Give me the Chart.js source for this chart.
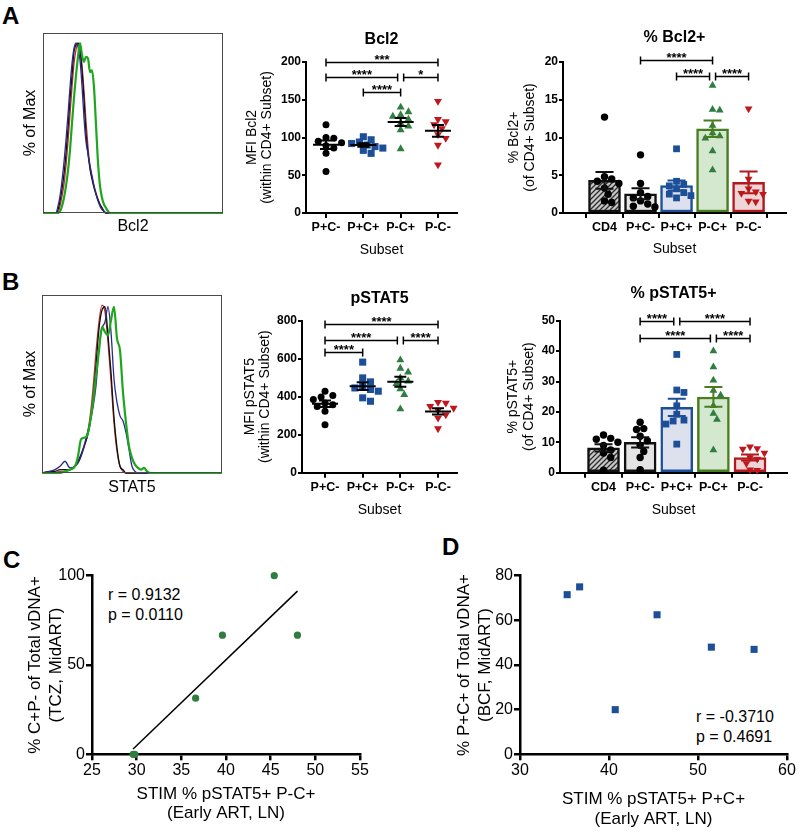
<!DOCTYPE html>
<html><head><meta charset="utf-8">
<script src="https://cdn.jsdelivr.net/npm/chart.js@4.4.1/dist/chart.umd.min.js"></script>
<style>
html,body{margin:0;padding:0;background:#fff;}
#wrap{position:relative;width:800px;height:833px;overflow:hidden;font-family:"Liberation Sans",Arial,sans-serif;}
canvas{position:absolute;}
.lbl{position:absolute;white-space:nowrap;color:#000;font-family:"Liberation Sans",Arial,sans-serif;}
.big{font-weight:bold;font-size:24px;line-height:24px;}
.st{font-size:16px;line-height:20px;}
</style></head><body><div id="wrap">
<div class="lbl big" style="left:2px;top:4px">A</div>
<div class="lbl big" style="left:2px;top:270px">B</div>
<div class="lbl big" style="left:3px;top:548px">C</div>
<div class="lbl big" style="left:442px;top:535px">D</div>
<div class="lbl st" style="left:108px;top:584.5px">r = 0.9132<br>p = 0.0110</div>
<div class="lbl st" style="left:696px;top:707px">r = -0.3710<br>p = 0.4691</div>
</div>
<script>
// ================= DATA =================
const dotCats = ['P+C-', 'P+C+', 'P-C+', 'P-C-'];
const barCats = ['CD4', 'P+C-', 'P+C+', 'P-C+', 'P-C-'];

// A: MFI Bcl2 (within CD4+ subset)
const bcl2Mfi_PpCm = [117, 100, 99, 95, 93, 89, 86, 79, 55];
const bcl2Mfi_PpCp = [101, 97, 94, 92, 90, 88, 86, 83, 79];
const bcl2Mfi_PmCp = [140, 134, 130, 128, 124, 119, 115, 110, 85];
const bcl2Mfi_PmCm = [148, 124, 121, 117, 112, 104, 99, 90, 64];
const bcl2MfiBrackets = [[0, 3, 200, '***'], [0, 2, 180, '****'], [2, 3, 180, '*'], [1, 2, 160, '****']];

// A: % Bcl2+ (of CD4+ subset)
const bcl2Pct_CD4  = [12.7, 4.8, 4.5, 4.2, 3.9, 3.3, 2.5, 1.6, 1.4];
const bcl2Pct_PpCm = [7.7, 3.9, 2.7, 2.2, 2.0, 1.6, 1.2, 0.9, 0.8];
const bcl2Pct_PpCp = [8.5, 4.2, 3.8, 3.6, 3.2, 2.7, 2.5, 2.3, 2.0];
const bcl2Pct_PmCp = [16.9, 13.7, 13.6, 11.6, 10.6, 10.2, 9.9, 8.2, 5.7];
const bcl2Pct_PmCm = [13.8, 4.5, 3.2, 2.8, 2.6, 2.5, 1.6, 1.5];
const bcl2PctBrackets = [[1, 3, 20.3, '****'], [2, 3, 18.1, '****'], [3, 4, 18.1, '****']];

// B: MFI pSTAT5
const stat5Mfi_PpCm = [429, 406, 399, 385, 367, 358, 349, 323, 252];
const stat5Mfi_PpCp = [582, 499, 478, 455, 446, 438, 429, 394, 376];
const stat5Mfi_PmCp = [593, 549, 529, 499, 482, 469, 441, 411, 335];
const stat5Mfi_PmCm = [371, 367, 349, 340, 328, 305, 288, 232];
const stat5MfiBrackets = [[0, 3, 785, '****'], [0, 2, 699, '****'], [2, 3, 699, '****'], [0, 1, 637, '****']];

// B: % pSTAT5+
const stat5Pct_CD4  = [12.4, 11.3, 11.0, 10.0, 9.0, 7.5, 6.5, 5.0, 0.8];
const stat5Pct_PpCm = [16.6, 14.5, 14.2, 12.0, 10.5, 9.0, 7.0, 5.0, 1.0];
const stat5Pct_PpCp = [38.9, 27.2, 26.4, 22.0, 19.2, 17.3, 17.0, 16.0, 9.4];
const stat5Pct_PmCp = [40.0, 34.8, 30.4, 27.0, 25.5, 22.0, 19.5, 17.5, 7.5];
const stat5Pct_PmCm = [8.5, 8.0, 7.8, 6.5, 5.0, 4.5, 3.0, 1.0, 0.8];
const stat5PctBrackets = [[1, 2, 50, '****'], [2, 4, 50, '****'], [1, 3, 44.2, '****'], [3, 4, 44.2, '****']];

// Histograms (% of Max vs fluorescence, arbitrary units)
const histA_x     = [0, 13, 15, 17, 19, 21, 23, 25, 27, 29, 31, 33, 35, 37, 39, 41, 43, 45, 47, 49, 51, 53, 55, 57, 59, 61, 63, 65, 67, 180];
const histA_black = [0, 0, 2, 7, 14, 23, 35, 50, 67, 81, 95, 99, 100, 96, 84, 67, 47, 35, 26, 20, 15, 11, 8, 5, 3, 1, 0, 0, 0, 0];
const histA_red   = [0, 0, 0, 4, 10, 17, 28, 42, 58, 74, 88, 96, 100, 97, 87, 72, 54, 39, 27, 21, 16, 12, 8, 5, 3, 1, 0, 0, 0, 0];
const histA_blue  = [0, 0, 4, 10, 19, 30, 43, 58, 74, 88, 97, 100, 98, 90, 75, 56, 42, 35, 28, 22, 16, 11, 7, 4, 2, 1, 0, 0, 0, 0];
const histA_green = [0, 0, 0, 1, 4, 9, 16, 25, 37, 53, 68, 81, 92, 100, 93, 89, 92, 91, 83, 84, 74, 52, 30, 16, 9, 5, 3, 1, 0, 0];

const histB_x     = [0, 8, 13, 18, 23, 28, 33, 36, 39, 42, 45, 48, 51, 54, 57, 60, 63, 66, 69, 72, 75, 78, 81, 84, 87, 90, 93, 96, 99, 102, 105, 108, 180];
const histB_black = [0, 1, 1, 2, 2, 2, 4, 7, 11, 16, 21, 29, 43, 64, 86, 97, 99, 82, 60, 33, 15, 4, 2, 0, 0, 0, 0, 0, 0, 0, 0, 0, 0];
const histB_red   = [0, 0, 0, 1, 1, 2, 4, 6, 10, 15, 22, 33, 50, 72, 90, 100, 96, 78, 55, 30, 13, 4, 1, 0, 0, 0, 0, 0, 0, 0, 0, 0, 0];
const histB_blue  = [0, 1, 2, 4, 7, 3, 4, 6, 10, 16, 23, 30, 39, 52, 74, 86, 90, 99, 84, 56, 42, 34, 31, 24, 14, 4, 1, 0, 0, 0, 0, 0, 0];
const histB_green = [0, 0, 0, 0, 1, 2, 4, 10, 20, 21, 22, 30, 42, 58, 73, 87, 84, 82, 91, 99, 80, 73, 48, 30, 16, 9, 5, 3, 2, 3, 1, 0, 0];

// C: STIM % pSTAT5+ P-C+ vs % C+P- of total vDNA+
const corrC_x = [29.6, 29.8, 36.6, 39.6, 45.4, 48.0];
const corrC_y = [0, 0, 31.4, 66.7, 100, 66.7];
// D: STIM % pSTAT5+ P+C+ vs % P+C+ of total vDNA+
const corrD_x = [35.3, 36.7, 40.7, 45.4, 51.5, 56.3];
const corrD_y = [71.5, 75.0, 20.0, 62.5, 48.0, 47.0];

// ================= RENDERING =================
const FONT = "'Liberation Sans', Arial, sans-serif";
Chart.defaults.font.family = FONT;
Chart.defaults.color = '#000';
Chart.defaults.animation = false;

const COL = {black: '#000000', blue: '#1d4f98', green: '#2f7d3f', red: '#c0171e'};
const EDGE = {black: '#111111', blue: '#1d4f98', green: '#4a7d1e', red: '#b2191e'};
const WRAP = document.getElementById('wrap');

function panel(R, A) {
  const c = document.createElement('canvas');
  c.width = R.w; c.height = R.h;
  Object.assign(c.style, {left: R.x + 'px', top: R.y + 'px', width: R.w + 'px', height: R.h + 'px'});
  WRAP.appendChild(c);
  return {canvas: c, padding: {left: 0, top: A.t - R.y, right: R.x + R.w - A.r, bottom: 0},
          W: A.l - R.x, H: R.y + R.h - A.b, pxX: A.r - A.l, pxY: A.b - A.t};
}

function swarm(vals, pxPerY, pxPerX, d) {
  const placed = [], offs = new Array(vals.length);
  const order = vals.map((v, i) => i).sort((a, b) => vals[b] - vals[a]);
  for (const i of order) {
    const py = vals[i] * pxPerY;
    let chosen = 0;
    for (let k = 0; k < 40; k++) {
      const step = Math.ceil(k / 2) * (k % 2 ? 1 : -1) * d * 0.6;
      if (placed.every(p => (p.x - step) ** 2 + (p.y - py) ** 2 >= d * d)) { chosen = step; break; }
    }
    placed.push({x: chosen, y: py});
    offs[i] = chosen / pxPerX;
  }
  return offs;
}

const deco = {
  id: 'deco',
  afterDatasetsDraw(chart, args, o) {
    const ctx = chart.ctx, a = chart.chartArea, xs = chart.scales.x, ys = chart.scales.y;
    ctx.save();
    if (o.frame) {
      ctx.strokeStyle = o.frame; ctx.lineWidth = 1;
      ctx.strokeRect(a.left + 0.5, a.top + 0.5, a.right - a.left - 1, a.bottom - a.top - 1);
    }
    (o.summaries || []).forEach(s => {
      const n = s.values.length, m = s.values.reduce((p, v) => p + v, 0) / n;
      const sd = Math.sqrt(s.values.reduce((p, v) => p + (v - m) ** 2, 0) / (n - 1));
      const se = sd / Math.sqrt(n);
      const x = xs.getPixelForValue(s.index);
      const yM = ys.getPixelForValue(m), yT = ys.getPixelForValue(m + se), yB = ys.getPixelForValue(m - se);
      ctx.strokeStyle = s.color; ctx.lineWidth = 2;
      ctx.beginPath();
      if (o.meanWidth) { ctx.moveTo(x - o.meanWidth / 2, yM); ctx.lineTo(x + o.meanWidth / 2, yM); }
      ctx.moveTo(x, yT); ctx.lineTo(x, yB);
      ctx.moveTo(x - o.capWidth / 2, yT); ctx.lineTo(x + o.capWidth / 2, yT);
      ctx.moveTo(x - o.capWidth / 2, yB); ctx.lineTo(x + o.capWidth / 2, yB);
      ctx.stroke();
    });
    const br = o.brackets || [];
    ctx.strokeStyle = '#000'; ctx.fillStyle = '#000'; ctx.lineWidth = 1.5;
    ctx.font = 'bold 13px ' + FONT; ctx.textAlign = 'center'; ctx.textBaseline = 'alphabetic';
    br.forEach(([i, j, v, label]) => {
      let x1 = xs.getPixelForValue(i), x2 = xs.getPixelForValue(j);
      if (br.some(b => b[2] === v && b[1] === i)) x1 += 3;
      if (br.some(b => b[2] === v && b[0] === j)) x2 -= 3;
      const y = Math.round(ys.getPixelForValue(v)) + 0.5;
      ctx.beginPath();
      ctx.moveTo(x1, y); ctx.lineTo(x2, y);
      ctx.moveTo(x1, y - 4); ctx.lineTo(x1, y + 4);
      ctx.moveTo(x2, y - 4); ctx.lineTo(x2, y + 4);
      ctx.stroke();
      ctx.fillText(label, (x1 + x2) / 2, y + 1);
    });
    if (o.title) {
      ctx.font = 'bold 16px ' + FONT; ctx.textBaseline = 'middle'; ctx.textAlign = 'center';
      ctx.fillText(o.title.text, (a.left + a.right) / 2, o.title.y);
    }
    ctx.restore();
  }
};

function yAxis(P, o) {
  return {
    type: 'linear', position: 'left', min: o.min, max: o.max,
    afterFit: sc => { sc.width = P.W; },
    grid: {display: !!o.step, drawOnChartArea: false, drawTicks: true, tickLength: o.tl || 5, color: '#000', lineWidth: o.lw || 2},
    border: {display: o.border !== false, color: '#000', width: o.lw || 2},
    ticks: o.step ? {stepSize: o.step, font: o.tickFont, padding: o.tickPad || 1, color: '#000'} : {display: false},
    title: {display: true, text: o.title, font: o.titleFont, color: '#000', padding: {top: o.titlePad, bottom: 0}}
  };
}
function xAxis(P, o) {
  const s = {
    type: 'linear', position: 'bottom', min: o.min, max: o.max,
    afterFit: sc => { sc.height = P.H; },
    grid: {display: !!(o.step || o.cats), drawOnChartArea: false, drawTicks: true, tickLength: o.tl || 5, color: '#000', lineWidth: o.lw || 2},
    border: {display: o.border !== false, color: '#000', width: o.lw || 2},
    ticks: (o.step || o.cats) ? {font: o.tickFont, padding: o.tickPad || 1, color: '#000', autoSkip: false, maxRotation: 0} : {display: false},
    title: {display: true, text: o.title, font: o.titleFont, color: '#000', padding: {top: 0, bottom: o.titlePad}}
  };
  if (o.step) s.ticks.stepSize = o.step;
  if (o.cats) {
    s.afterBuildTicks = sc => { sc.ticks = o.cats.map((c, i) => ({value: i})); };
    s.ticks.callback = v => o.cats[v];
  }
  return s;
}

const baseOpts = (P) => ({responsive: false, animation: false, events: [], layout: {padding: P.padding}});
const plug = (extra) => Object.assign({legend: {display: false}, tooltip: {enabled: false}}, extra);

// ---------- Histograms ----------
function histPlot(R, A, xs, curves, xTitle, xPad) {
  const P = panel(R, A);
  new Chart(P.canvas, {
    type: 'scatter',
    data: {datasets: curves.map(c => ({type: 'line', data: xs.map((x, i) => ({x, y: c.y[i]})),
      borderColor: c.color, borderWidth: c.w, pointRadius: 0, fill: false, cubicInterpolationMode: 'monotone', clip: false}))},
    options: Object.assign(baseOpts(P), {
      scales: {
        x: xAxis(P, {min: 0, max: 180, border: false, title: xTitle, titleFont: {size: 16, lineHeight: 1.2}, titlePad: xPad}),
        y: yAxis(P, {min: 0, max: 106, border: false, title: '% of Max', titleFont: {size: 16, lineHeight: 1.2}, titlePad: 21.4})
      },
      plugins: plug({deco: {frame: '#4a4a4a'}})
    }),
    plugins: [deco]
  });
}
histPlot({x: 0, y: 0, w: 232, h: 245}, {l: 43, t: 33, r: 223, b: 213}, histA_x, [
  {y: histA_green, color: '#1fa61f', w: 2.2},
  {y: histA_blue, color: '#2a2a8a', w: 1.3},
  {y: histA_black, color: '#111111', w: 1.3},
  {y: histA_red, color: '#b83030', w: 1.3}
], 'Bcl2', 8.9);
histPlot({x: 0, y: 258, w: 232, h: 252}, {l: 42, t: 295, r: 222, b: 473}, histB_x, [
  {y: histB_green, color: '#1fa61f', w: 2.2},
  {y: histB_blue, color: '#2a2a8a', w: 1.3},
  {y: histB_black, color: '#111111', w: 1.3},
  {y: histB_red, color: '#b83030', w: 1.3}
], 'STAT5', 12.9);

// ---------- Dot plots ----------
const dotStyles = [
  {shape: 'circle', r: 3.5, rot: 0, color: COL.black},
  {shape: 'rect', r: 5.0, rot: 0, color: COL.blue},
  {shape: 'triangle', r: 4.6, rot: 0, color: COL.green},
  {shape: 'triangle', r: 4.6, rot: 180, color: COL.red}
];
function pointSets(series, styles, pxPerY, pxPerX, d) {
  return series.map((vals, i) => {
    const off = swarm(vals, pxPerY, pxPerX, d);
    const st = styles[i];
    return {type: 'scatter', data: vals.map((v, k) => ({x: i + off[k], y: v})),
      pointStyle: st.shape, pointRadius: st.r, pointRotation: st.rot,
      backgroundColor: st.color, borderColor: st.color, borderWidth: 0, order: 1, clip: false};
  });
}
function dotPlot(R, A, o) {
  const P = panel(R, A);
  const pxPerX = P.pxX / (o.xmax - o.xmin), pxPerY = P.pxY / o.ymax;
  new Chart(P.canvas, {
    type: 'scatter',
    data: {datasets: pointSets(o.series, dotStyles, pxPerY, pxPerX, 6.5)},
    options: Object.assign(baseOpts(P), {
      scales: {
        x: xAxis(P, {min: o.xmin, max: o.xmax, cats: dotCats, tl: 5, tickPad: 2.5, tickFont: {size: 12.5, weight: 'bold'},
          title: 'Subset', titleFont: {size: 14, lineHeight: 1.2}, titlePad: 11.1}),
        y: yAxis(P, {min: 0, max: o.ymax, step: o.step, tl: 4, tickPad: 1, tickFont: {size: 12, weight: 'bold'},
          title: o.yTitle, titleFont: {size: 14, lineHeight: '15.5px'}, titlePad: o.yTitlePad})
      },
      plugins: plug({deco: {title: {text: o.title, y: o.titleY}, brackets: o.brackets, meanWidth: 26, capWidth: 12,
        summaries: o.series.map((v, i) => ({index: i, values: v, color: '#000'}))}})
    }),
    plugins: [deco]
  });
}
dotPlot({x: 230, y: 20, w: 240, h: 250}, {l: 306, t: 62, r: 457, b: 213}, {
  xmin: -0.536, xmax: 3.51, ymax: 200, step: 50,
  series: [bcl2Mfi_PpCm, bcl2Mfi_PpCp, bcl2Mfi_PmCp, bcl2Mfi_PmCm], brackets: bcl2MfiBrackets,
  title: 'Bcl2', titleY: 19.5, yTitle: ['MFI Bcl2', '(within CD4+ Subset)'], yTitlePad: 14
});
dotPlot({x: 230, y: 280, w: 240, h: 250}, {l: 302, t: 320.7, r: 457, b: 472.7}, {
  xmin: -0.611, xmax: 3.504, ymax: 800, step: 200,
  series: [stat5Mfi_PpCm, stat5Mfi_PpCp, stat5Mfi_PmCp, stat5Mfi_PmCm], brackets: stat5MfiBrackets,
  title: 'pSTAT5', titleY: 18.7, yTitle: ['MFI pSTAT5', '(within CD4+ Subset)'], yTitlePad: 12.3
});

// ---------- Bar + dot plots ----------
function hatch() {
  const c = document.createElement('canvas'); c.width = 5; c.height = 5;
  const g = c.getContext('2d');
  g.fillStyle = '#c8c8c8'; g.fillRect(0, 0, 5, 5);
  g.strokeStyle = '#2e2e2e'; g.lineWidth = 1.3;
  g.beginPath(); g.moveTo(0, 5); g.lineTo(5, 0); g.moveTo(-1, 1); g.lineTo(1, -1); g.moveTo(4, 6); g.lineTo(6, 4); g.stroke();
  return g.createPattern(c, 'repeat');
}
const barStyles = [
  {shape: 'circle', r: 3.7, rot: 0, color: COL.black},
  {shape: 'circle', r: 3.7, rot: 0, color: COL.black},
  {shape: 'rect', r: 4.8, rot: 0, color: COL.blue},
  {shape: 'triangle', r: 4.5, rot: 0, color: COL.green},
  {shape: 'triangle', r: 4.5, rot: 180, color: COL.red}
];
const barFills = () => [hatch(), '#e4e4e4', '#dde1ee', '#d3e8cf', '#efd6d6'];
const barEdges = [EDGE.black, EDGE.black, EDGE.blue, EDGE.green, EDGE.red];
function barPlot(R, A, o) {
  const P = panel(R, A);
  const pxPerX = P.pxX / (o.xmax - o.xmin), pxPerY = P.pxY / o.ymax;
  const means = o.series.map(v => v.reduce((a, b) => a + b, 0) / v.length);
  const sets = pointSets(o.series, barStyles, pxPerY, pxPerX, 7.5);
  sets.push({type: 'bar', data: means.map((m, i) => ({x: i, y: m})), backgroundColor: barFills(), borderColor: barEdges,
    borderWidth: 2.5, borderSkipped: false, barThickness: 32, order: 2});
  new Chart(P.canvas, {
    type: 'scatter',
    data: {datasets: sets},
    options: Object.assign(baseOpts(P), {
      scales: {
        x: xAxis(P, {min: o.xmin, max: o.xmax, cats: barCats, tl: 5, tickPad: 2.5, tickFont: {size: 12.5, weight: 'bold'},
          title: 'Subset', titleFont: {size: 14, lineHeight: 1.2}, titlePad: o.xTitlePad}),
        y: yAxis(P, {min: 0, max: o.ymax, step: o.step, tl: 4, tickPad: 1, tickFont: {size: 12, weight: 'bold'},
          title: o.yTitle, titleFont: {size: 14, lineHeight: '15.5px'}, titlePad: o.yTitlePad})
      },
      plugins: plug({deco: {title: {text: o.title, y: o.titleY}, brackets: o.brackets, capWidth: 18,
        summaries: o.series.map((v, i) => ({index: i, values: v, color: barEdges[i]}))}})
    }),
    plugins: [deco]
  });
}
barPlot({x: 470, y: 20, w: 330, h: 250}, {l: 563, t: 62, r: 786, b: 213}, {
  xmin: -0.533, xmax: 4.42, ymax: 20, step: 5,
  series: [bcl2Pct_CD4, bcl2Pct_PpCm, bcl2Pct_PpCp, bcl2Pct_PmCp, bcl2Pct_PmCm], brackets: bcl2PctBrackets,
  title: '% Bcl2+', titleY: 17.2, yTitle: ['% Bcl2+', '(of CD4+ Subset)'], yTitlePad: 36.7, xTitlePad: 12.1
});
barPlot({x: 470, y: 280, w: 330, h: 250}, {l: 560, t: 320.7, r: 787, b: 472.7}, {
  xmin: -0.568, xmax: 4.39, ymax: 50, step: 10,
  series: [stat5Pct_CD4, stat5Pct_PpCm, stat5Pct_PpCp, stat5Pct_PmCp, stat5Pct_PmCm], brackets: stat5PctBrackets,
  title: '% pSTAT5+', titleY: 13.5, yTitle: ['% pSTAT5+', '(of CD4+ Subset)'], yTitlePad: 35.7, xTitlePad: 11.6
});

// ---------- Correlations ----------
function regress(xs, ys) {
  const n = xs.length, mx = xs.reduce((a, b) => a + b, 0) / n, my = ys.reduce((a, b) => a + b, 0) / n;
  let sxy = 0, sxx = 0;
  xs.forEach((x, i) => { sxy += (x - mx) * (ys[i] - my); sxx += (x - mx) ** 2; });
  const b = sxy / sxx, a = my - b * mx;
  const x0 = Math.min(...xs), x1 = Math.max(...xs);
  return [{x: x0, y: a + b * x0}, {x: x1, y: a + b * x1}];
}
function corrPlot(R, A, o) {
  const P = panel(R, A);
  const sets = [{type: 'scatter', data: o.x.map((x, i) => ({x, y: o.y[i]})), pointStyle: o.shape, pointRadius: o.r,
    backgroundColor: o.color, borderColor: o.color, borderWidth: 0, clip: false, order: 1}];
  if (o.fit) sets.push({type: 'line', data: regress(o.x, o.y), borderColor: '#000', borderWidth: 1.5, pointRadius: 0, fill: false, clip: false, order: 2});
  new Chart(P.canvas, {
    type: 'scatter',
    data: {datasets: sets},
    options: Object.assign(baseOpts(P), {
      scales: {
        x: xAxis(P, {min: o.xmin, max: o.xmax, step: o.xstep, tl: 6, tickPad: 1, lw: 2.5, tickFont: {size: 16},
          title: o.xTitle, titleFont: {size: 17, lineHeight: o.xLH}, titlePad: o.xTitlePad}),
        y: yAxis(P, {min: 0, max: o.ymax, step: o.ystep, tl: 6, tickPad: 1, lw: 2.5, tickFont: {size: 16},
          title: o.yTitle, titleFont: {size: 17, lineHeight: 1.25}, titlePad: o.yTitlePad})
      },
      plugins: plug({deco: {}})
    }),
    plugins: [deco]
  });
}
corrPlot({x: 0, y: 560, w: 400, h: 273}, {l: 92, t: 575.7, r: 360, b: 754.3}, {
  x: corrC_x, y: corrC_y, shape: 'circle', r: 3.6, color: COL.green, fit: true,
  xmin: 25, xmax: 55, xstep: 5, ymax: 100, ystep: 50,
  xTitle: ['STIM % pSTAT5+ P-C+', '(Early ART, LN)'], xLH: 1.15, xTitlePad: 9.8,
  yTitle: ['% C+P- of Total vDNA+', '(TCZ, MidART)'], yTitlePad: 24.4
});
corrPlot({x: 400, y: 560, w: 400, h: 273}, {l: 520, t: 575.7, r: 787, b: 754.3}, {
  x: corrD_x, y: corrD_y, shape: 'rect', r: 5, color: COL.blue, fit: false,
  xmin: 30, xmax: 60, xstep: 10, ymax: 80, ystep: 20,
  xTitle: ['STIM % pSTAT5+ P+C+', '(Early ART, LN)'], xLH: 1.2, xTitlePad: 3.4,
  yTitle: ['% P+C+ of Total vDNA+', '(BCF, MidART)'], yTitlePad: 53.4
});
</script>
</body></html>
